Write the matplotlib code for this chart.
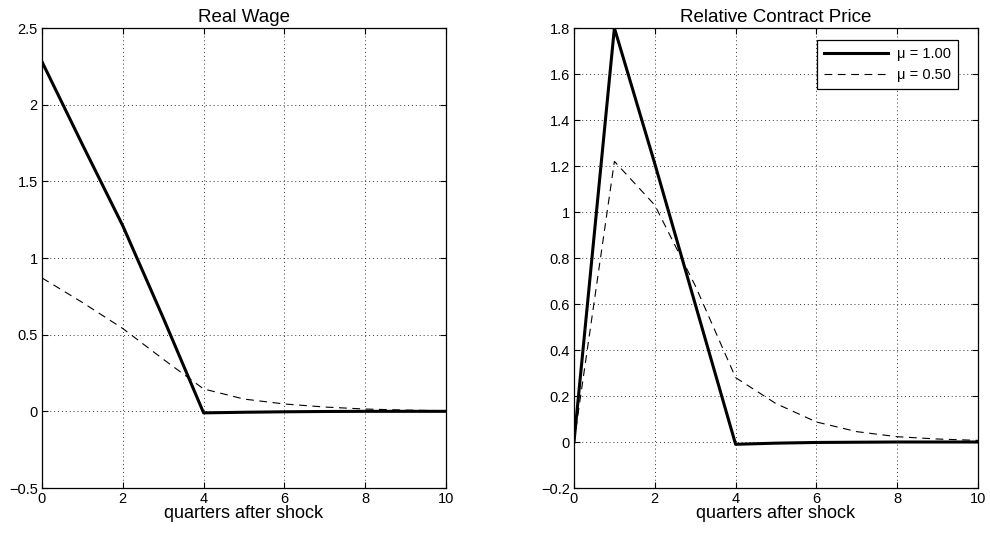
import matplotlib
matplotlib.use('Agg')
import matplotlib.pyplot as plt

plt.rcParams['font.family'] = ['Liberation Sans', 'DejaVu Sans']

quarters = [0, 1, 2, 3, 4, 5, 6, 7, 8, 9, 10]

# Real wage responses
wage_mu100 = [2.28, 1.74, 1.21, 0.61, -0.01, -0.006, -0.003, -0.001, 0.0, 0.0, 0.0]
wage_mu050 = [0.87, 0.71, 0.54, 0.34, 0.146, 0.08, 0.048, 0.028, 0.015, 0.008, 0.004]

# Relative contract price responses
price_mu100 = [0.0, 1.80, 1.21, 0.60, -0.01, -0.005, -0.002, -0.001, 0.0, 0.0, 0.0]
price_mu050 = [0.0, 1.22, 1.03, 0.68, 0.28, 0.167, 0.087, 0.045, 0.023, 0.013, 0.007]

legend_labels = ['\u03bc = 1.00', '\u03bc = 0.50']

fig = plt.figure(figsize=(9.9, 5.34), dpi=100)
ax1 = fig.add_axes([42 / 990, 46 / 534, 404 / 990, 460 / 534])
ax2 = fig.add_axes([574 / 990, 46 / 534, 404 / 990, 460 / 534])


def style_axes(ax, title, ylim, yticks, ylabels):
    ax.set_xlim(0, 10)
    ax.set_ylim(*ylim)
    ax.set_xticks([0, 2, 4, 6, 8, 10])
    ax.set_yticks(yticks)
    ax.set_yticklabels(ylabels)
    ax.tick_params(direction='in', top=True, right=True, labelsize=10.5, length=4, pad=3)
    ax.grid(True, linestyle=(0, (1, 3)), color='black', linewidth=0.7, alpha=0.8)
    ax.set_title(title, fontsize=13.5, pad=4)
    ax.set_xlabel('quarters after shock', fontsize=13, labelpad=-1)
    for sp in ax.spines.values():
        sp.set_linewidth(0.9)


ax1.plot(quarters, wage_mu100, color='black', linewidth=2.2)
ax1.plot(quarters, wage_mu050, color='black', linewidth=0.8, linestyle=(0, (7, 5)))
style_axes(ax1, 'Real Wage', (-0.5, 2.5), [-0.5, 0, 0.5, 1, 1.5, 2, 2.5],
           ['\u22120.5', '0', '0.5', '1', '1.5', '2', '2.5'])

ax2.plot(quarters, price_mu100, color='black', linewidth=2.2, label=legend_labels[0])
ax2.plot(quarters, price_mu050, color='black', linewidth=0.8, linestyle=(0, (7, 5)),
         label=legend_labels[1])
style_axes(ax2, 'Relative Contract Price', (-0.2, 1.8),
           [-0.2, 0, 0.2, 0.4, 0.6, 0.8, 1, 1.2, 1.4, 1.6, 1.8],
           ['\u22120.2', '0', '0.2', '0.4', '0.6', '0.8', '1', '1.2', '1.4', '1.6', '1.8'])
leg = ax2.legend(loc='upper right', fontsize=10.5, fancybox=False, framealpha=1,
                 edgecolor='black', bbox_to_anchor=(958 / 990, 494 / 534),
                 bbox_transform=fig.transFigure, borderaxespad=0, borderpad=0.5,
                 handlelength=4.4, handletextpad=0.6, labelspacing=0.45)
leg.get_frame().set_linewidth(0.9)

fig.savefig('out.png', dpi=100)
